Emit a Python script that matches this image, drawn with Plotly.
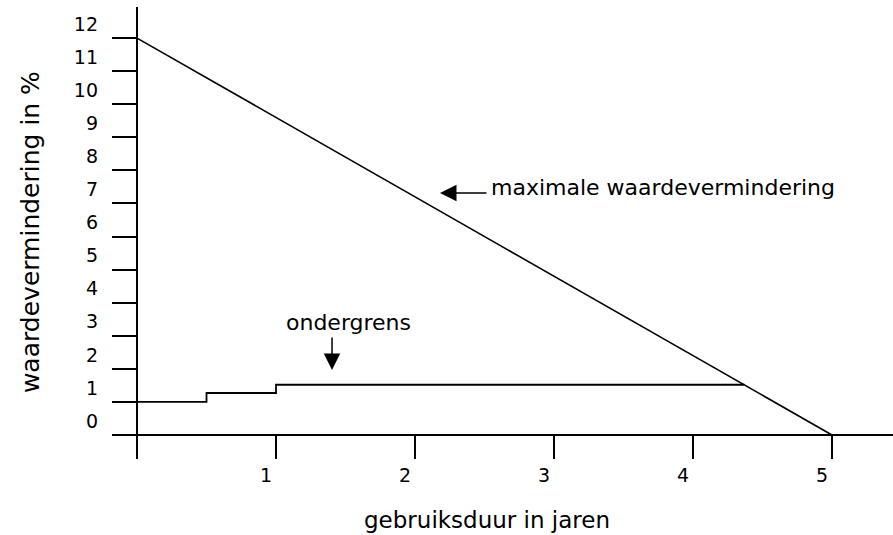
import plotly.graph_objects as go

# Data
max_x = [0, 5]
max_y = [12, 0]
low_x = [0, 0.5, 1, 4.37]
low_y = [1.0, 1.27, 1.52, 1.52]
y_ticks = list(range(0, 13))
y_labels = [str(v) for v in y_ticks]
x_ticks = [1, 2, 3, 4, 5]
x_labels = [str(v) for v in x_ticks]

FONT = "DejaVu Sans"

fig = go.Figure()
fig.add_trace(go.Scatter(x=max_x, y=max_y, mode="lines",
                         line=dict(color="black", width=1.6), hoverinfo="skip"))
fig.add_trace(go.Scatter(x=low_x, y=low_y, mode="lines", line_shape="hv",
                         line=dict(color="black", width=1.8), hoverinfo="skip"))

# labels and arrows
fig.add_annotation(x=2.18, y=7.315, ax=48, ay=0, axref="pixel", ayref="pixel", text="",
                   showarrow=True, arrowhead=2, arrowsize=2.2, arrowwidth=1.5, arrowcolor="black")
fig.add_annotation(x=2.53, y=7.47, text="maximale waardevermindering", showarrow=False,
                   xanchor="left", yanchor="middle", font=dict(family=FONT, size=22, color="black"))
fig.add_annotation(x=1.52, y=3.39, text="ondergrens", showarrow=False,
                   xanchor="center", yanchor="middle", font=dict(family=FONT, size=22, color="black"))
fig.add_annotation(x=1.403, y=1.965, ax=0, ay=-34, axref="pixel", ayref="pixel", text="",
                   showarrow=True, arrowhead=2, arrowsize=2.2, arrowwidth=1.5, arrowcolor="black")

# axis titles
fig.add_annotation(xref="paper", yref="paper", x=0.480, y=-0.135, text="gebruiksduur in jaren",
                   showarrow=False, xanchor="center", yanchor="middle",
                   font=dict(family=FONT, size=23, color="black"))
fig.add_annotation(xref="paper", yref="paper", x=-0.105, y=0.502, text="waardevermindering in %",
                   showarrow=False, textangle=-90, xanchor="center", yanchor="middle",
                   font=dict(family=FONT, size=25, color="black"))

fig.update_layout(
    width=893, height=535,
    margin=dict(l=112, r=0, t=7, b=76),
    paper_bgcolor="white", plot_bgcolor="white",
    showlegend=False,
    font=dict(family=FONT, color="black"),
    xaxis=dict(range=[-0.18, 5.439], tickvals=x_ticks, ticktext=x_labels,
               ticks="inside", ticklen=24, tickwidth=2, tickcolor="black",
               showgrid=False, showline=False, zeroline=True, zerolinecolor="black",
               zerolinewidth=2, ticklabelshift=-10, ticklabelstandoff=3,
               tickfont=dict(family=FONT, size=19, color="black")),
    yaxis=dict(range=[-0.7255, 12.94], tickvals=y_ticks, ticktext=y_labels,
               ticks="inside", ticklen=25, tickwidth=2, tickcolor="black",
               showgrid=False, showline=False, zeroline=True, zerolinecolor="black",
               zerolinewidth=2, ticklabelshift=-14, ticklabelstandoff=13,
               tickfont=dict(family=FONT, size=19, color="black")),
)

fig.write_html("out.html", config={"displayModeBar": False, "staticPlot": True})

# remove the browser's default page margin so the figure sits at the top-left corner
with open("out.html", "r", encoding="utf-8") as f:
    html = f.read()
html = html.replace("<head>", "<head><style>html,body{margin:0;padding:0;}</style>", 1)
with open("out.html", "w", encoding="utf-8") as f:
    f.write(html)
